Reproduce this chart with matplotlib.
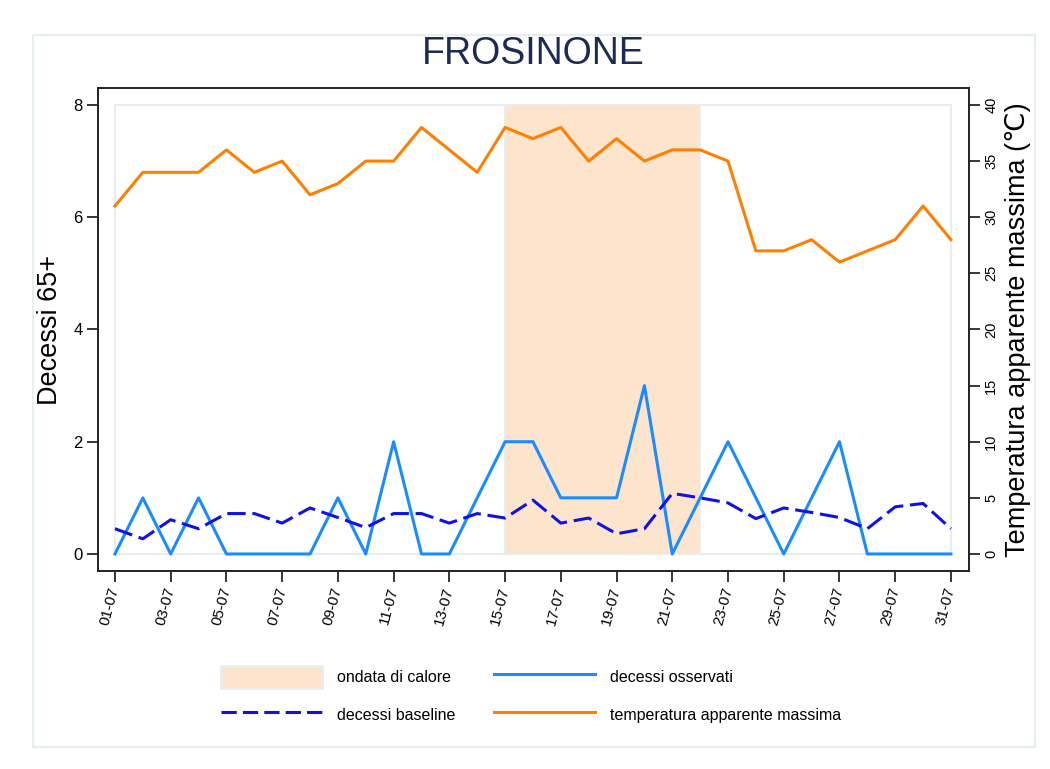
import numpy as np
import matplotlib
matplotlib.use("Agg")
import matplotlib.pyplot as plt
from matplotlib.patches import Rectangle, Patch
from matplotlib.lines import Line2D

plt.rcParams["font.family"] = ["Liberation Sans", "DejaVu Sans"]

# ---------------- data ----------------
days = list(range(1, 32))
day_labels = [f"{d:02d}-07" for d in days]

observed = [0, 1, 0, 1, 0, 0, 0, 0, 1, 0, 2, 0, 0, 1, 2, 2,
            1, 1, 1, 3, 0, 1, 2, 1, 0, 1, 2, 0, 0, 0, 0]
baseline = [0.45, 0.27, 0.61, 0.45, 0.72, 0.72, 0.55, 0.82, 0.65, 0.47, 0.72,
            0.72, 0.55, 0.72, 0.64, 0.96, 0.55, 0.64, 0.36, 0.45, 1.08, 1.00,
            0.91, 0.63, 0.82, 0.74, 0.65, 0.45, 0.84, 0.90, 0.45]
temperature = [31, 34, 34, 34, 36, 34, 35, 32, 33, 35, 35, 38, 36, 34, 38, 37,
               38, 35, 37, 35, 36, 36, 35, 27, 27, 28, 26, 27, 28, 31, 28]

heatwave_start, heatwave_end = 15, 22

# ---------------- style ----------------
C_ORANGE = "#ff8000"
C_OBS = "#1a8cff"
C_BASE = "#1010e8"
C_SHADE = "#fde4cc"
C_EDGE = "#e6eef0"
C_TITLE = "#1c2b55"

fig = plt.figure(figsize=(10.5, 7.69), dpi=100)
ax = fig.add_axes([0.0933, 0.2575, 0.8295, 0.6281])
ax2 = ax.twinx()

# outer light frame
fig.patches.append(Rectangle((33 / 1050, 1 - 747 / 769), 1002 / 1050, 712 / 769,
                             transform=fig.transFigure, fill=False,
                             ec=C_EDGE, lw=1.5))

# inner plot region and heat-wave shading
ax.add_patch(Rectangle((days[0], 0), days[-1] - days[0], 8, fill=False,
                       ec=C_EDGE, lw=1.5, zorder=0))
ax.add_patch(Rectangle((heatwave_start, 0), heatwave_end - heatwave_start, 8,
                       fc=C_SHADE, ec=C_EDGE, lw=1.5, zorder=1))

ax.plot(days, observed, color=C_OBS, lw=2.2, zorder=3)
ax.plot(days, baseline, color=C_BASE, lw=2.2, dashes=(6, 2.2), zorder=4)
ax2.plot(days, temperature, color=C_ORANGE, lw=2.2, zorder=3)

ax.set_xlim(0.39, 31.646)
ax.set_ylim(-0.303, 8.303)
ax2.set_ylim(-1.515, 41.515)

ax.set_xticks(days[::2])
ax.set_xticklabels(day_labels[::2], rotation=75, ha="right", va="center",
                   rotation_mode="anchor", fontsize=11)
ax.set_yticks([0, 2, 4, 6, 8])
ax.tick_params(axis="y", labelsize=12, length=8, width=1.1, pad=3)
ax.tick_params(axis="x", length=8, width=1.1, pad=4)
ax2.set_yticks(range(0, 41, 5))
ax2.set_yticklabels([str(v) for v in range(0, 41, 5)], rotation=90,
                    va="center", fontsize=10.5)
ax2.tick_params(axis="y", length=8, width=1.1, pad=3)

for a in (ax, ax2):
    for s in a.spines.values():
        s.set_linewidth(1.2)
        s.set_color("#222222")

fig.text(533 / 1050, 1 - 54 / 769, "FROSINONE", ha="center", va="center",
         fontsize=27, color=C_TITLE)
fig.text(50 / 1050, 1 - 330 / 769, "Decessi 65+", rotation=90,
         ha="center", va="center", fontsize=19.5)
fig.text(1018 / 1050, 1 - 330 / 769, "Temperatura apparente massima (℃)",
         rotation=90, ha="center", va="center", fontsize=19.5)

handles = [
    Patch(fc=C_SHADE, ec=C_EDGE, lw=2),
    Line2D([], [], color=C_BASE, lw=2.2, dashes=(5, 2)),
    Line2D([], [], color=C_OBS, lw=2.2),
    Line2D([], [], color=C_ORANGE, lw=2.2),
]
labels = ["ondata di calore", "decessi baseline",
          "decessi osservati", "temperatura apparente massima"]
fig.legend(handles, labels, loc="center", ncol=2,
           bbox_to_anchor=(531 / 1050, 1 - 696 / 769), frameon=False,
           fontsize=11.5, handlelength=6.3, handleheight=1.8,
           handletextpad=0.95, columnspacing=2.45, labelspacing=0.95)

fig.savefig("out.png", dpi=100)
